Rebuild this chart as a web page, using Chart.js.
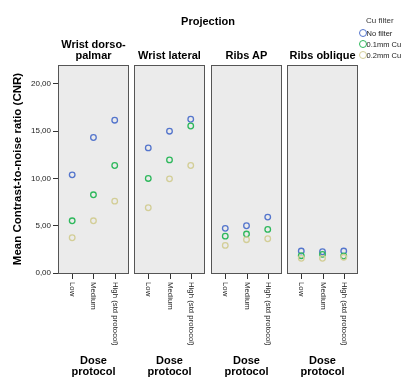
<!DOCTYPE html>
<html>
<head>
<meta charset="utf-8">
<script src="https://cdn.jsdelivr.net/npm/chart.js@4/dist/chart.umd.min.js"></script>
<style>
  html, body { margin: 0; padding: 0; background: #fff; }
  #wrap { position: relative; width: 405px; height: 378px; overflow: hidden; font-family: "Liberation Sans", Arial, sans-serif; }
  canvas { position: absolute; top: 0; }
  .t { position: absolute; text-align: center; font-weight: bold; font-size: 11px; line-height: 11px; color: #000; white-space: nowrap; }
  .leg { position: absolute; font-size: 7.5px; color: #222; white-space: nowrap; line-height: 11px; }
  .dot { position: absolute; width: 6px; height: 6px; border-radius: 50%; border: 1.2px solid; box-sizing: content-box; }
</style>
</head>
<body>
<div id="wrap"></div>
<script>
// ---- data ----
const projections = ["Wrist dorso-\npalmar", "Wrist lateral", "Ribs AP", "Ribs oblique"];
const doseLevels = ["Low", "Medium", "High (std protocol)"];
const filters = ["No filter", "0.1mm Cu", "0.2mm Cu"];
const yTicks = [0, 5, 10, 15, 20];
// values per projection: [Low, Medium, High]
const noFilter = [
  [10.38, 14.33, 16.16],
  [13.23, 15.00, 16.26],
  [4.72, 5.00, 5.91],
  [2.32, 2.25, 2.32]
];
const cu01 = [
  [5.52, 8.27, 11.37],
  [10.00, 11.96, 15.55],
  [3.90, 4.12, 4.61],
  [1.83, 1.97, 1.80]
];
const cu02 = [
  [3.73, 5.52, 7.60],
  [6.90, 9.96, 11.37],
  [2.92, 3.52, 3.62],
  [1.55, 1.55, 1.66]
];
const seriesValues = [noFilter, cu01, cu02];
const colors = ["#5475cc", "#2eb85c", "#d3ce97"];

// ---- layout ----
const panelLeft = [58, 134, 211, 287];
const panelW = 71;
const TOP = 65, BOTTOM = 105, H = 378;
const wrap = document.getElementById("wrap");

function addText(cls, txt, style) {
  const d = document.createElement("div");
  d.className = cls;
  d.textContent = txt;
  Object.assign(d.style, style);
  wrap.appendChild(d);
  return d;
}

const panelPlugin = {
  id: "panel",
  beforeDatasetsDraw(chart) {
    const a = chart.chartArea, ctx = chart.ctx;
    ctx.save();
    ctx.fillStyle = "#ebebeb";
    ctx.fillRect(a.left, a.top, a.right - a.left, a.bottom - a.top);
    ctx.restore();
  },
  afterDraw(chart) {
    const a = chart.chartArea, ctx = chart.ctx;
    const xs = chart.scales.x;
    ctx.save();
    ctx.strokeStyle = "#555";
    ctx.lineWidth = 1;
    ctx.strokeRect(Math.round(a.left) + 0.5, Math.round(a.top) + 0.5,
                   Math.round(a.right - a.left) - 1, Math.round(a.bottom - a.top));
    ctx.strokeStyle = "#333";
    ctx.fillStyle = "#222";
    ctx.font = "7.8px 'Liberation Sans', Arial, sans-serif";
    doseLevels.forEach((lab, i) => {
      const px = Math.round(xs.getPixelForValue(i)) + 0.5;
      const by = Math.round(a.bottom) + 1;
      ctx.beginPath();
      ctx.moveTo(px, by);
      ctx.lineTo(px, by + 5);
      ctx.stroke();
      ctx.save();
      ctx.translate(px, by + 8);
      ctx.rotate(Math.PI / 2);
      ctx.textAlign = "left";
      ctx.textBaseline = "middle";
      ctx.fillText(lab, 0, 0);
      ctx.restore();
    });
    ctx.restore();
  }
};

projections.forEach((proj, p) => {
  const first = p === 0;
  const cv = document.createElement("canvas");
  const left = first ? 0 : panelLeft[p] - 4;
  const width = first ? panelLeft[0] + panelW + 4 : panelW + 8;
  cv.style.left = left + "px";
  cv.style.width = width + "px";
  cv.style.height = H + "px";
  cv.width = width; cv.height = H;
  wrap.appendChild(cv);

  const datasets = filters.map((f, s) => ({
    label: f,
    data: doseLevels.map((d, i) => ({ x: i, y: seriesValues[s][p][i] })),
    borderColor: colors[s],
    backgroundColor: "rgba(0,0,0,0)",
    pointRadius: 2.8,
    pointBorderWidth: 1.3,
    pointHoverRadius: 2.8,
    showLine: false
  })).reverse();

  const yScale = {
    type: "linear", min: 0, max: 22,
    display: first,
    afterBuildTicks(scale) { scale.ticks = yTicks.map(v => ({ value: v })); },
    border: { display: false },
    grid: { drawOnChartArea: false, drawTicks: true, tickLength: 5, color: "#333", tickWidth: 1 },
    ticks: {
      padding: 2,
      color: "#222",
      font: { family: "'Liberation Sans', Arial, sans-serif", size: 8 },
      callback: v => v.toFixed(2).replace(".", ",")
    },
    title: {
      display: first,
      text: "Mean Contrast-to-noise ratio (CNR)",
      color: "#000",
      font: { family: "'Liberation Sans', Arial, sans-serif", size: 11.5, weight: "bold" },
      padding: { top: 11, bottom: 0 }
    }
  };
  if (first) yScale.afterFit = scale => { scale.width = panelLeft[0]; };
  else yScale.afterFit = scale => { scale.width = 0; };

  new Chart(cv, {
    type: "scatter",
    data: { datasets },
    plugins: [panelPlugin],
    options: {
      responsive: false,
      animation: false,
      devicePixelRatio: 1,
      events: [],
      layout: { padding: { top: TOP, bottom: BOTTOM, left: first ? 0 : 4, right: 4 } },
      plugins: { legend: { display: false }, tooltip: { enabled: false } },
      scales: {
        x: { type: "linear", display: false, min: -0.667, max: 2.667 },
        y: yScale
      }
    }
  });

  // panel title
  const lines = proj.split("\n");
  const titleTop = lines.length === 2 ? 38.5 : 49.5;
  const t = addText("t", "", { left: panelLeft[p] - 20 + "px", width: panelW + 40 + "px", top: titleTop + "px" });
  t.innerHTML = lines.join("<br>");
  // dose protocol
  const dp = addText("t", "", { left: panelLeft[p] - 20 + "px", width: panelW + 40 + "px", top: 354.5 + "px" });
  dp.innerHTML = "Dose<br>protocol";
});

addText("t", "Projection", { left: "158px", width: "100px", top: "15.5px" });

// legend
addText("leg", "Cu filter", { left: "366px", top: "15px", fontSize: "8px", color: "#333" });
filters.forEach((f, s) => {
  const y = 33.5 + s * 10.8;
  const d = document.createElement("div");
  d.className = "dot";
  Object.assign(d.style, { left: (362.7 - 4.2) + "px", top: (y - 4.2) + "px", borderColor: colors[s] });
  wrap.appendChild(d);
  addText("leg", f, { left: "366.5px", top: (y - 5.5) + "px" });
});
</script>
</body>
</html>
